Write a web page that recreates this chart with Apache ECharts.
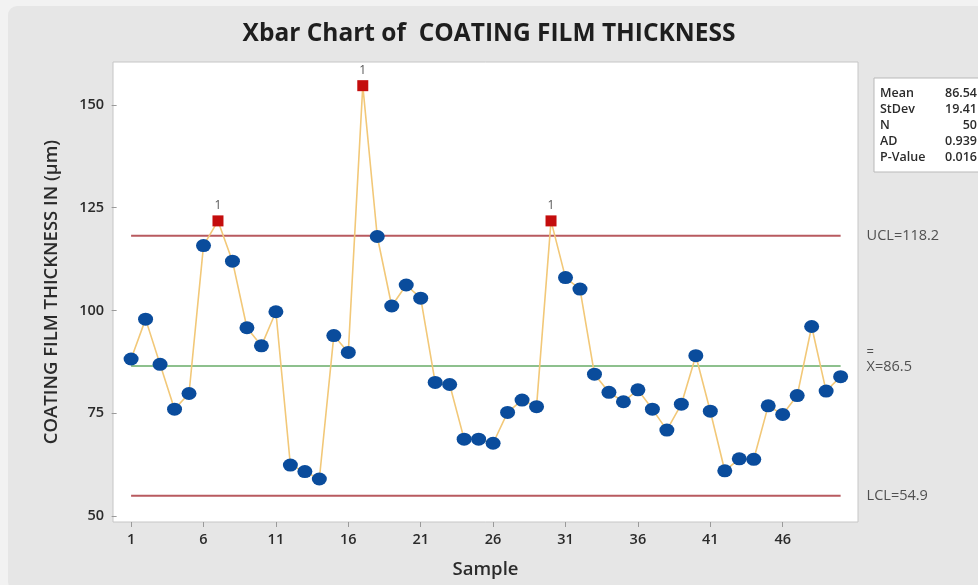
<!DOCTYPE html>
<html>
<head>
<meta charset="utf-8">
<title>Xbar Chart of COATING FILM THICKNESS</title>
<script src="https://cdn.jsdelivr.net/npm/echarts@6/dist/echarts.min.js"></script>
<style>
  html, body { margin: 0; padding: 0; background: #f2f2f2; }
  #panel { position: absolute; left: 8px; top: 6px; width: 978px; height: 585px;
           background: #e6e6e6; border-radius: 9px; }
  #chart { position: absolute; left: 0; top: 0; width: 978px; height: 585px; }
</style>
</head>
<body>
<div id="panel"></div>
<div id="chart"></div>
<script>
// Subgroup means of coating film thickness (µm), samples 1..50
const samples = Array.from({ length: 50 }, (_, i) => i + 1);
const thickness = [
  88.2, 97.9, 86.9, 76.0, 79.8, 115.8, 121.8, 112.0, 95.8, 91.4,
  99.7, 62.4, 60.8, 59.0, 93.9, 89.8, 154.7, 118.0, 101.1, 106.2,
  103.0, 82.5, 82.0, 68.7, 68.7, 67.7, 75.2, 78.2, 76.6, 121.8,
  108.0, 105.2, 84.5, 80.1, 77.8, 80.7, 76.0, 70.9, 77.2, 89.0,
  75.5, 61.0, 63.9, 63.8, 76.8, 74.7, 79.3, 96.1, 80.4, 83.9
];

// Control limits
const UCL = 118.2;
const CENTER = 86.5;
const LCL = 54.9;

// Axis tick labels
const xTicks = [1, 6, 11, 16, 21, 26, 31, 36, 41, 46];
const yTicks = [50, 75, 100, 125, 150];

// Summary statistics box
const statNames = ['Mean', 'StDev', 'N', 'AD', 'P-Value'];
const statValues = ['86.54', '19.41', '50', '0.939', '0.016'];

const FONT = '"Open Sans", "Noto Sans", sans-serif';
const TEXT = '#2b2b2b';
const LIMIT_TEXT = '#505050';

const pointData = samples.map((s, i) => {
  const v = thickness[i];
  const out = v > UCL || v < LCL;
  return out ? {
    value: [s, v],
    symbol: 'rect',
    symbolSize: 11,
    itemStyle: { color: '#c40d0d' },
    label: { show: true, position: 'top', distance: 4, formatter: '1',
             color: '#555', fontSize: 12, fontFamily: FONT }
  } : { value: [s, v] };
});

function limitLine(name, y, color, label) {
  return {
    name, type: 'line', silent: true, symbol: 'none', z: 1,
    data: [[samples[0], y], [samples[samples.length - 1], y]],
    lineStyle: { color, width: 2 },
    endLabel: label
  };
}

const statGraphics = [{
  type: 'rect', shape: { x: 874, y: 78, width: 120, height: 94 },
  style: { fill: '#ffffff', stroke: '#b9b9b9', lineWidth: 1 }
}];
statNames.forEach((n, i) => {
  statGraphics.push({
    type: 'text', x: 880, y: 93 + i * 16,
    style: { text: n, fill: TEXT, font: '600 12.5px ' + FONT, textVerticalAlign: 'middle' }
  });
  statGraphics.push({
    type: 'text', x: 977, y: 93 + i * 16,
    style: { text: statValues[i], fill: TEXT, font: '600 12.5px ' + FONT,
             textAlign: 'right', textVerticalAlign: 'middle' }
  });
});

const chart = echarts.init(document.getElementById('chart'));
chart.setOption({
  backgroundColor: 'transparent',
  animation: false,
  title: {
    text: 'Xbar Chart of  COATING FILM THICKNESS',
    left: 'center', top: 17,
    textStyle: { fontFamily: FONT, fontSize: 24.5, fontWeight: 'bold', color: '#1e1e1e' }
  },
  grid: {
    left: 113, right: 120, top: 62, bottom: 63,
    show: true, backgroundColor: '#ffffff', borderColor: '#c6c6c6', borderWidth: 1
  },
  xAxis: {
    type: 'value', min: -0.25, max: 51.2,
    name: 'Sample', nameLocation: 'middle', nameGap: 38,
    nameTextStyle: { fontFamily: FONT, fontSize: 18.5, fontWeight: 600, color: TEXT },
    splitLine: { show: false },
    axisLine: { show: false },
    axisTick: { show: true, customValues: xTicks, length: 5, lineStyle: { color: '#9a9a9a' } },
    axisLabel: { customValues: xTicks, margin: 10, fontFamily: FONT, fontSize: 14.5,
                 fontWeight: 600, color: TEXT }
  },
  yAxis: {
    type: 'value', min: 48.54, max: 160.46,
    name: 'COATING FILM THICKNESS IN (µm)', nameLocation: 'middle', nameGap: 52,
    nameTextStyle: { fontFamily: FONT, fontSize: 18.5, fontWeight: 600, color: TEXT },
    splitLine: { show: false },
    axisLine: { show: false },
    axisTick: { show: true, customValues: yTicks, length: 5, lineStyle: { color: '#9a9a9a' } },
    axisLabel: { customValues: yTicks, margin: 9, fontFamily: FONT, fontSize: 14.5,
                 fontWeight: 600, color: TEXT }
  },
  graphic: statGraphics,
  series: [
    limitLine('UCL', UCL, '#b85a5f', {
      show: true, offset: [18, 0], formatter: 'UCL=' + UCL.toFixed(1),
      fontFamily: FONT, fontSize: 14.5, color: LIMIT_TEXT
    }),
    limitLine('Center', CENTER, '#8dc08d', {
      show: true, offset: [18, -5],
      formatter: '{b|=}\n{t|X=' + CENTER.toFixed(1) + '}',
      rich: {
        b: { fontFamily: FONT, fontSize: 13, color: LIMIT_TEXT, lineHeight: 11 },
        t: { fontFamily: FONT, fontSize: 14.5, color: LIMIT_TEXT, lineHeight: 17 }
      }
    }),
    limitLine('LCL', LCL, '#b85a5f', {
      show: true, offset: [18, 0], formatter: 'LCL=' + LCL.toFixed(1),
      fontFamily: FONT, fontSize: 14.5, color: LIMIT_TEXT
    }),
    {
      name: 'Thickness', type: 'line', z: 3,
      data: pointData,
      symbol: 'circle', symbolSize: [15, 13],
      itemStyle: { color: '#0a4c9c' },
      lineStyle: { color: '#f2c878', width: 1.6 }
    }
  ]
});
</script>
</body>
</html>
